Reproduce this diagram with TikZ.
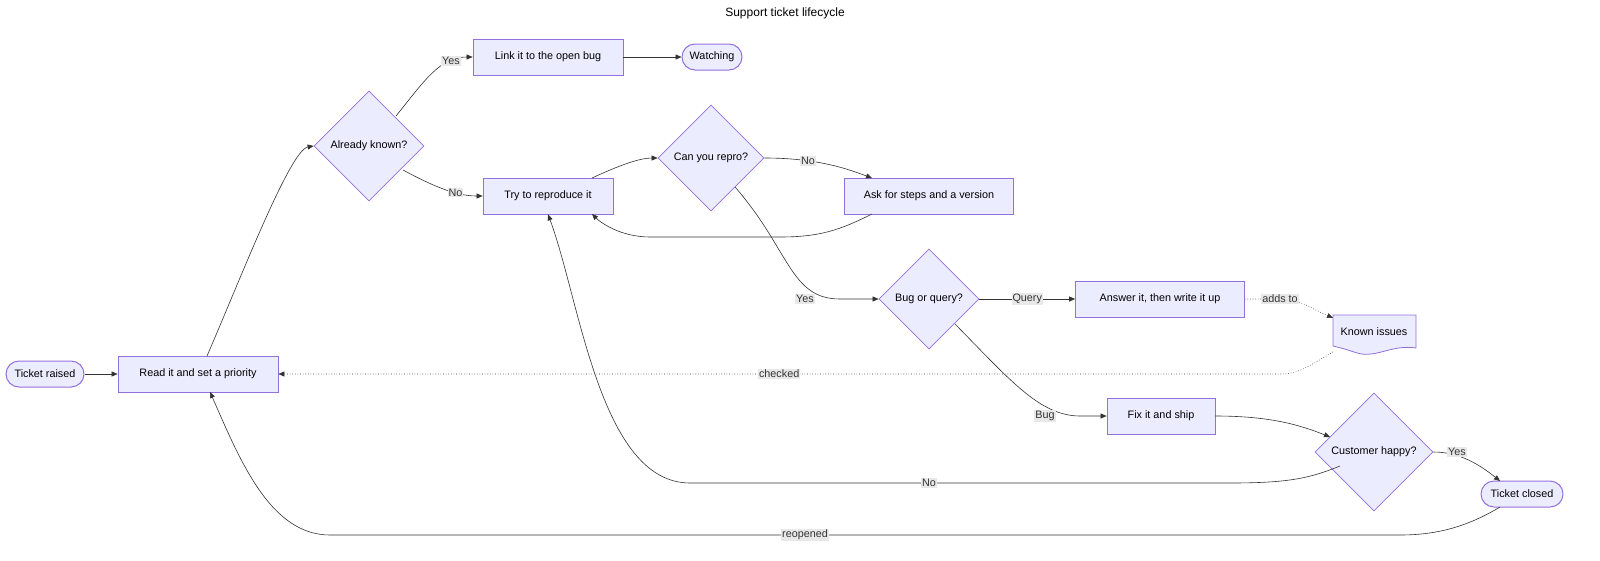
\documentclass[tikz,border=0pt]{standalone}
\usepackage{fontspec}
\setmainfont{Liberation Sans}
\usetikzlibrary{shapes.geometric,arrows.meta}
\definecolor{nf}{HTML}{ECECFF}
\definecolor{ns}{HTML}{9370DB}
\definecolor{ln}{HTML}{333333}
\definecolor{lb}{HTML}{E8E8E8}
\begin{document}
\begin{tikzpicture}[x=1pt,y=-1pt,font=\fontsize{10.8}{12}\selectfont,
 box/.style={draw=ns,fill=nf,line width=0.7pt,minimum height=36pt,inner sep=0pt},
 stad/.style={draw=ns,fill=nf,line width=1pt,rounded corners=13pt,minimum height=26pt,inner sep=0pt},
 dia/.style={draw=ns,fill=nf,line width=0.7pt,diamond,inner sep=0pt},
 e/.style={draw=ln,line width=0.6pt,-{Triangle[length=6pt,width=5pt]}},
 d/.style={e,dotted},
 lab/.style={fill=lb,inner sep=1pt,text=ln}]
\useasboundingbox (0,0) rectangle (1600,560);
\node at (785,13) {\fontsize{12}{14}\selectfont Support ticket lifecycle};
\node[stad,minimum width=78pt] (raised) at (45,374) {Ticket raised};
\node[box,minimum width=160pt] (read) at (198,374) {Read it and set a priority};
\node[dia,minimum width=110pt,minimum height=110pt] (known) at (369,146) {Already known?};
\node[box,minimum width=150pt] (link) at (548,57) {Link it to the open bug};
\node[stad,minimum width=60pt] (watch) at (712,57) {Watching};
\node[box,minimum width=130pt] (try) at (548,196) {Try to reproduce it};
\node[dia,minimum width=106pt,minimum height=106pt] (can) at (711,158) {Can you repro?};
\node[box,minimum width=169pt] (ask) at (929,196) {Ask for steps and a version};
\node[dia,minimum width=100pt,minimum height=100pt] (bug) at (929,299) {Bug or query?};
\node[box,minimum width=169pt] (ans) at (1160,299) {Answer it, then write it up};
\node[minimum width=83pt,minimum height=30pt,inner sep=0pt] (ki) at (1374,330) {};
\draw[ns,fill=nf,line width=0.8pt] (1333,315) -- (1416,315) -- (1416,348)
  .. controls (1390,344) and (1375,360) .. (1354,352) .. controls (1345,349) .. (1333,346) -- cycle;
\node at (1374,332) {Known issues};
\node[box,minimum width=108pt] (fix) at (1161,416) {Fix it and ship};
\node[dia,minimum width=118pt,minimum height=118pt] (happy) at (1374,452) {Customer happy?};
\node[stad,minimum width=82pt] (closed) at (1522,494) {Ticket closed};

\coordinate (c1) at (1280,374);
\draw[e] (raised) -- (read);
\draw[e] (207,356) .. controls (240,280) and (290,150) .. (known.west);
\draw[e] (396,116) .. controls (425,80) and (440,57) .. (link.west) node[lab,pos=0.75] {Yes};
\draw[e] (403,170) .. controls (440,190) and (460,196) .. (try.west) node[lab,pos=0.6] {No};
\draw[e] (link) -- (watch);
\draw[e] (592,178) .. controls (620,165) and (640,158) .. (can.west);
\draw[e] (can.east) .. controls (820,158) and (850,170) .. (872,178) node[lab,pos=0.3] {No};
\draw[e] (872,214) .. controls (840,230) and (820,237) .. (780,237) -- (650,237) .. controls (620,237) and (600,222) .. (592,214);
\draw[e] (735,187) .. controls (790,250) and (790,299) .. (840,299) -- (bug.west);
\node[lab] at (805,299) {Yes};
\draw[e] (bug.east) -- (ans.west) node[lab,midway] {Query};
\draw[d] (ans.east) -- (1280,299) .. controls (1300,299) and (1310,308) .. (1333,318);
\node[lab] at (1280,299) {adds to};
\draw[d] (1333,352) .. controls (1310,365) and (1300,374) .. (c1) -- (read.east) node[lab,midway] {checked};
\draw[e] (955,324) .. controls (1010,380) and (1040,416) .. (1080,416) -- (fix.west);
\node[lab] at (1045,416) {Bug};
\draw[e] (fix.east) .. controls (1270,416) and (1300,425) .. (1330,437);
\draw[e] (1340,466) .. controls (1310,478) and (1290,483) .. (1230,483) -- (690,483) .. controls (600,483) and (580,300) .. (try.south);
\node[lab] at (929,483) {No};
\draw[e] (happy.east) .. controls (1460,452) and (1480,465) .. (1500,481);
\node[lab] at (1457,452) {Yes};
\draw[e] (1500,507) .. controls (1470,525) and (1440,535) .. (1400,535) -- (330,535) .. controls (270,535) and (240,460) .. (210,392);
\node[lab] at (805,535) {reopened};
\end{tikzpicture}
\end{document}
